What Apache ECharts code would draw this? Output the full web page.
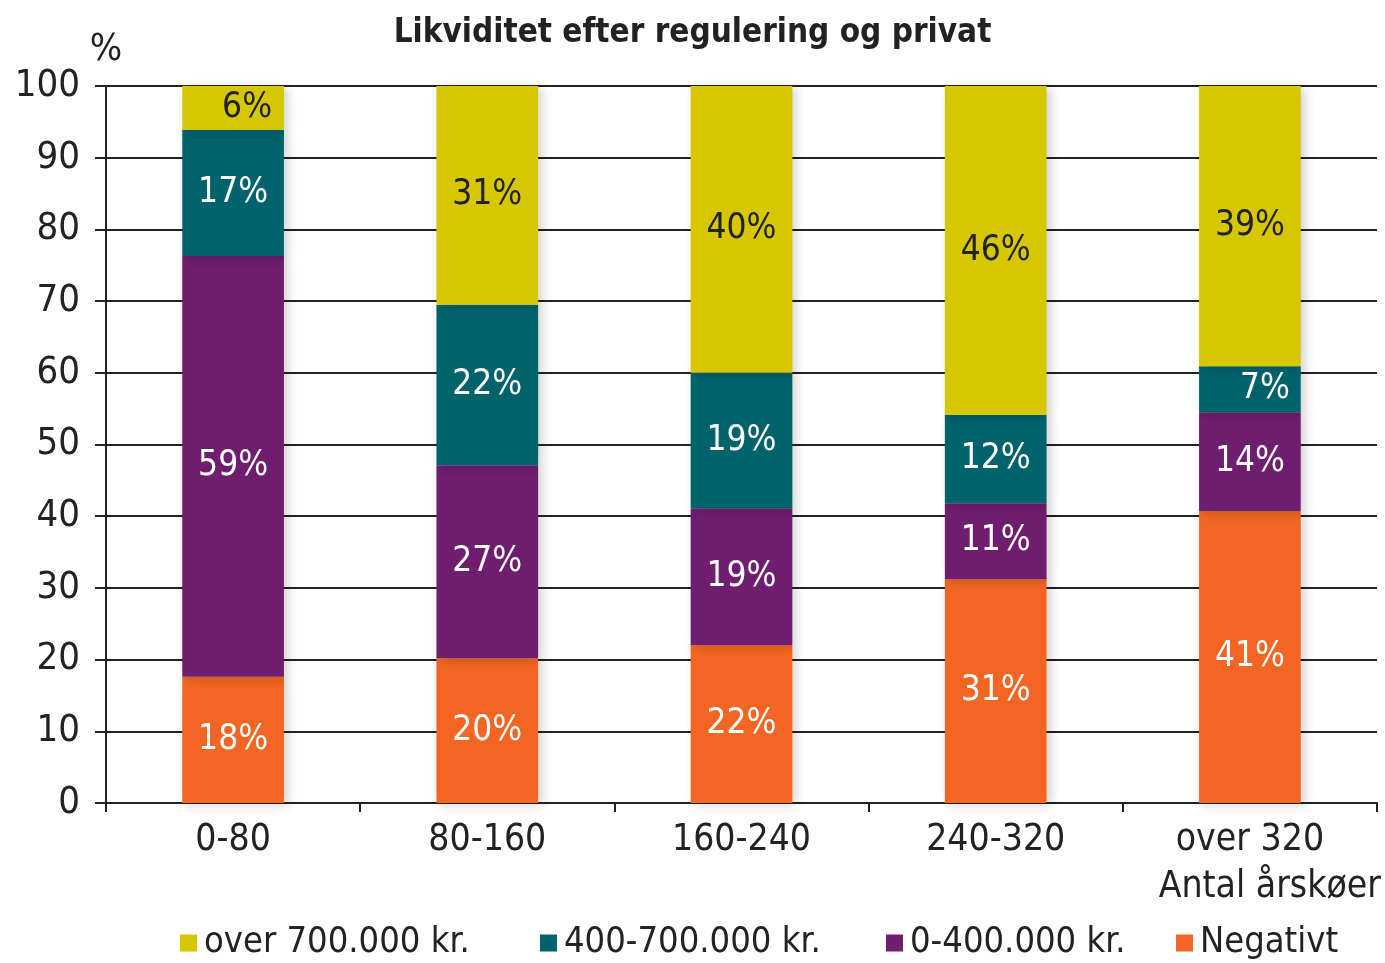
<!DOCTYPE html>
<html>
<head>
<meta charset="utf-8">
<script src="https://cdn.jsdelivr.net/npm/echarts@6/dist/echarts.min.js"></script>
<style>
  html, body { margin: 0; padding: 0; background: #fff; }
  #chart { width: 1385px; height: 963px; }
</style>
</head>
<body>
<div id="chart"></div>
<script>
var categories = ['0-80', '80-160', '160-240', '240-320', 'over 320'];
var seriesNames = ['over 700.000 kr.', '400-700.000 kr.', '0-400.000 kr.', 'Negativt'];

// segment heights (bottom to top: Negativt, 0-400, 400-700, over 700)
var negativt = [17.6, 20.2, 22.0, 31.2, 40.7];
var low = [58.7, 26.9, 19.1, 10.6, 13.8];
var mid = [17.6, 22.4, 18.9, 12.3, 6.4];
var high = [6.1, 30.5, 40.0, 45.9, 39.1];

// printed labels
var negativtLabels = ['18%', '20%', '22%', '31%', '41%'];
var lowLabels = ['59%', '27%', '19%', '11%', '14%'];
var midLabels = ['17%', '22%', '19%', '12%', '7%'];
var highLabels = ['6%', '31%', '40%', '46%', '39%'];

var yTicks = [0, 10, 20, 30, 40, 50, 60, 70, 80, 90, 100];

var font = "'DejaVu Sans Condensed', 'Liberation Sans Narrow', 'Open Sans', sans-serif";
var ink = '#222222';

function makeData(values, labels, offsets) {
  return values.map(function(v, i) {
    var item = { value: v, name: labels[i] };
    if (offsets && offsets[i]) {
      item.label = { offset: [offsets[i], 0] };
    }
    return item;
  });
}

function barSeries(name, values, labels, color, textColor, offsets) {
  return {
    name: name,
    type: 'bar',
    stack: 'total',
    barWidth: '40%',
    data: makeData(values, labels, offsets),
    itemStyle: {
      color: color,
      shadowColor: 'rgba(0,0,0,0.18)',
      shadowBlur: 10,
      shadowOffsetX: 4,
      shadowOffsetY: 2
    },
    label: {
      show: true,
      position: 'inside',
      color: textColor,
      fontFamily: font,
      fontSize: 35,
      formatter: function(p) { return p.name; }
    },
    animation: false
  };
}

var legendLefts = [180, 540, 886, 1176];
var legends = seriesNames.map(function(n, i) {
  return {
    data: [n],
    left: legendLefts[i],
    top: 925,
    itemWidth: 17,
    itemHeight: 17,
    icon: 'rect',
    padding: 0,
    textStyle: { fontFamily: font, fontSize: 36, color: ink, padding: [0, 0, 0, 2] }
  };
});

var chart = echarts.init(document.getElementById('chart'), null, { renderer: 'canvas' });

chart.setOption({
  backgroundColor: '#ffffff',
  title: {
    text: 'Likviditet efter regulering og privat',
    left: 'center',
    top: 12,
    textStyle: { fontFamily: font, fontSize: 33, fontWeight: 'bold', color: ink }
  },
  legend: legends,
  grid: { left: 106, right: 8, top: 86, bottom: 160 },
  xAxis: {
    type: 'category',
    data: categories,
    boundaryGap: true,
    axisLine: { lineStyle: { color: ink, width: 2 } },
    axisTick: { show: true, length: 9, lineStyle: { color: ink, width: 2 } },
    axisLabel: { fontFamily: font, fontSize: 37, color: ink, margin: 19 }
  },
  yAxis: {
    type: 'value',
    min: yTicks[0],
    max: yTicks[yTicks.length - 1],
    interval: 10,
    name: '%',
    nameLocation: 'end',
    nameGap: 17,
    nameTextStyle: { fontFamily: font, fontSize: 38, color: ink, align: 'center' },
    axisLine: { show: true, lineStyle: { color: ink, width: 2 } },
    axisTick: { show: true, length: 11, lineStyle: { color: ink, width: 2 } },
    axisLabel: { fontFamily: font, fontSize: 38, color: ink, margin: 26 },
    splitLine: { show: true, lineStyle: { color: ink, width: 2 } }
  },
  graphic: [{
    type: 'text',
    right: 4,
    top: 869,
    style: { text: 'Antal årskøer', fontFamily: font, fontSize: 37, fill: ink }
  }],
  series: [
    barSeries('Negativt', negativt, negativtLabels, '#f26522', '#ffffff'),
    barSeries('0-400.000 kr.', low, lowLabels, '#6e1d6f', '#ffffff'),
    barSeries('400-700.000 kr.', mid, midLabels, '#00636c', '#ffffff', [0, 0, 0, 0, 15]),
    barSeries('over 700.000 kr.', high, highLabels, '#d6c700', ink, [14, 0, 0, 0, 0])
  ]
});

window.addEventListener('resize', function() { chart.resize(); });
</script>
</body>
</html>
